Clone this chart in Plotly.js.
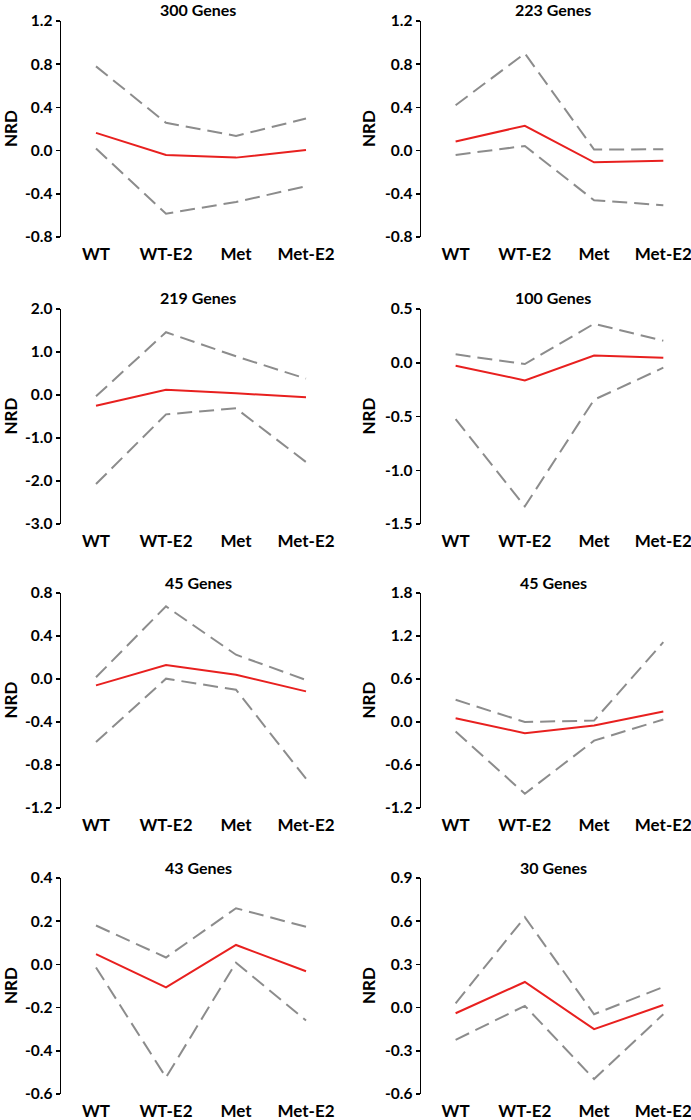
<!DOCTYPE html>
<html>
<head>
<meta charset="utf-8">
<script src="https://cdn.plot.ly/plotly-3.0.1.min.js"></script>
<style>
  body { margin: 0; background: #fff; }
  #plot { width: 691px; height: 1120px; }
</style>
</head>
<body>
<div id="plot"></div>
<script>
// conditions on the x axis
const conditions = ['WT', 'WT-E2', 'Met', 'Met-E2'];

// panel titles
const titles = ['300 Genes', '223 Genes', '219 Genes', '100 Genes',
                '45 Genes', '45 Genes', '43 Genes', '30 Genes'];

// mean NRD per panel (red line)
const mean1 = [0.164, -0.04, -0.065, 0.006];
const mean2 = [0.084, 0.23, -0.108, -0.093];
const mean3 = [-0.25, 0.12, 0.04, -0.05];
const mean4 = [-0.028, -0.164, 0.068, 0.047];
const mean5 = [-0.059, 0.13, 0.04, -0.115];
const mean6 = [0.053, -0.157, -0.05, 0.146];
const mean7 = [0.048, -0.106, 0.09, -0.032];
const mean8 = [-0.039, 0.178, -0.15, 0.018];

// upper bound (dashed)
const upper1 = [0.78, 0.257, 0.136, 0.297];
const upper2 = [0.42, 0.9, 0.01, 0.012];
const upper3 = [-0.03, 1.46, 0.9, 0.38];
const upper4 = [0.078, -0.012, 0.363, 0.205];
const upper5 = [0.016, 0.676, 0.226, -0.009];
const upper6 = [0.31, 0.0, 0.02, 1.115];
const upper7 = [0.18, 0.032, 0.26, 0.174];
const upper8 = [0.03, 0.628, -0.046, 0.143];

// lower bound (dashed)
const lower1 = [0.02, -0.584, -0.476, -0.33];
const lower2 = [-0.04, 0.043, -0.46, -0.505];
const lower3 = [-2.07, -0.45, -0.31, -1.56];
const lower4 = [-0.524, -1.336, -0.344, -0.046];
const lower5 = [-0.586, 0.003, -0.1, -0.927];
const lower6 = [-0.133, -1.0, -0.26, 0.035];
const lower7 = [-0.014, -0.523, 0.008, -0.26];
const lower8 = [-0.224, 0.012, -0.496, -0.046];

// y ticks per panel
const ticks1 = [-0.8, -0.4, 0.0, 0.4, 0.8, 1.2];
const ticks2 = [-0.8, -0.4, 0.0, 0.4, 0.8, 1.2];
const ticks3 = [-3.0, -2.0, -1.0, 0.0, 1.0, 2.0];
const ticks4 = [-1.5, -1.0, -0.5, 0.0, 0.5];
const ticks5 = [-1.2, -0.8, -0.4, 0.0, 0.4, 0.8];
const ticks6 = [-1.2, -0.6, 0.0, 0.6, 1.2, 1.8];
const ticks7 = [-0.6, -0.4, -0.2, 0.0, 0.2, 0.4];
const ticks8 = [-0.6, -0.3, 0.0, 0.3, 0.6, 0.9];

const means = [mean1, mean2, mean3, mean4, mean5, mean6, mean7, mean8];
const uppers = [upper1, upper2, upper3, upper4, upper5, upper6, upper7, upper8];
const lowers = [lower1, lower2, lower3, lower4, lower5, lower6, lower7, lower8];
const ticks = [ticks1, ticks2, ticks3, ticks4, ticks5, ticks6, ticks7, ticks8];

const W = 691, H = 1120;
const FONT = 'Lato, "Open Sans", sans-serif';

// pixel boxes of the plot areas
const colX = [[61, 341], [421, 691]];
const colRange = [[-0.5, 3.5], [-0.5, 3.4]];
const rowY = [[21, 237], [309, 524], [593, 808], [878, 1094]];
const nrdX = [10, 368]; // x of the rotated NRD label

let data = [];
let layout = {
    width: W,
    height: H,
    margin: {l: 0, r: 0, t: 0, b: 0},
    paper_bgcolor: '#fff',
    plot_bgcolor: '#fff',
    showlegend: false,
    font: {family: FONT, color: '#000'},
    annotations: []
};

for (let i = 0; i < 8; i++) {
    let row = Math.floor(i / 2);
    let col = i % 2;
    let n = i + 1;
    let xa = 'x' + (n == 1 ? '' : n);
    let ya = 'y' + (n == 1 ? '' : n);

    // dashed bounds
    data.push({x: conditions, y: uppers[i], xaxis: xa, yaxis: ya, mode: 'lines',
               line: {color: '#8c8c8c', width: 2, dash: '15px,7px'}});
    data.push({x: conditions, y: lowers[i], xaxis: xa, yaxis: ya, mode: 'lines',
               line: {color: '#8c8c8c', width: 2, dash: '15px,7px'}});
    // mean
    data.push({x: conditions, y: means[i], xaxis: xa, yaxis: ya, mode: 'lines',
               line: {color: '#e8201f', width: 2}});

    let x0 = colX[col][0] / W, x1 = colX[col][1] / W;
    let y0 = 1 - rowY[row][1] / H, y1 = 1 - rowY[row][0] / H;
    let t = ticks[i];

    layout['xaxis' + (n == 1 ? '' : n)] = {
        domain: [x0, x1],
        anchor: ya,
        type: 'category',
        range: colRange[col],
        showline: false,
        showgrid: false,
        zeroline: false,
        ticks: '',
        ticklabelstandoff: 5,
        tickfont: {family: FONT, size: 17, color: '#000', weight: 'bold'},
        fixedrange: true
    };
    layout['yaxis' + (n == 1 ? '' : n)] = {
        domain: [y0, y1],
        anchor: xa,
        range: [t[0], t[t.length - 1]],
        tickvals: t,
        ticktext: t.map(v => v.toFixed(1)),
        showline: true,
        linecolor: '#000',
        linewidth: 1.5,
        ticks: 'outside',
        ticklen: 4,
        tickwidth: 1.5,
        tickcolor: '#000',
        showgrid: false,
        zeroline: false,
        tickfont: {family: FONT, size: 15.5, color: '#000', weight: 'bold'},
        fixedrange: true
    };

    // panel title
    layout.annotations.push({
        text: '<b>' + titles[i] + '</b>',
        xref: 'paper', yref: 'paper',
        x: (x0 + x1) / 2 - 3 / W, y: 1 - (rowY[row][0] - 11) / H,
        xanchor: 'center', yanchor: 'middle',
        showarrow: false,
        font: {family: FONT, size: 16, color: '#000'}
    });
    // y axis label
    layout.annotations.push({
        text: '<b>NRD</b>',
        xref: 'paper', yref: 'paper',
        x: nrdX[col] / W, y: (y0 + y1) / 2,
        xanchor: 'center', yanchor: 'middle',
        textangle: -90,
        borderpad: 0,
        showarrow: false,
        font: {family: FONT, size: 17, color: '#000'}
    });
}

Plotly.newPlot('plot', data, layout, {displayModeBar: false, staticPlot: true});
</script>
</body>
</html>
